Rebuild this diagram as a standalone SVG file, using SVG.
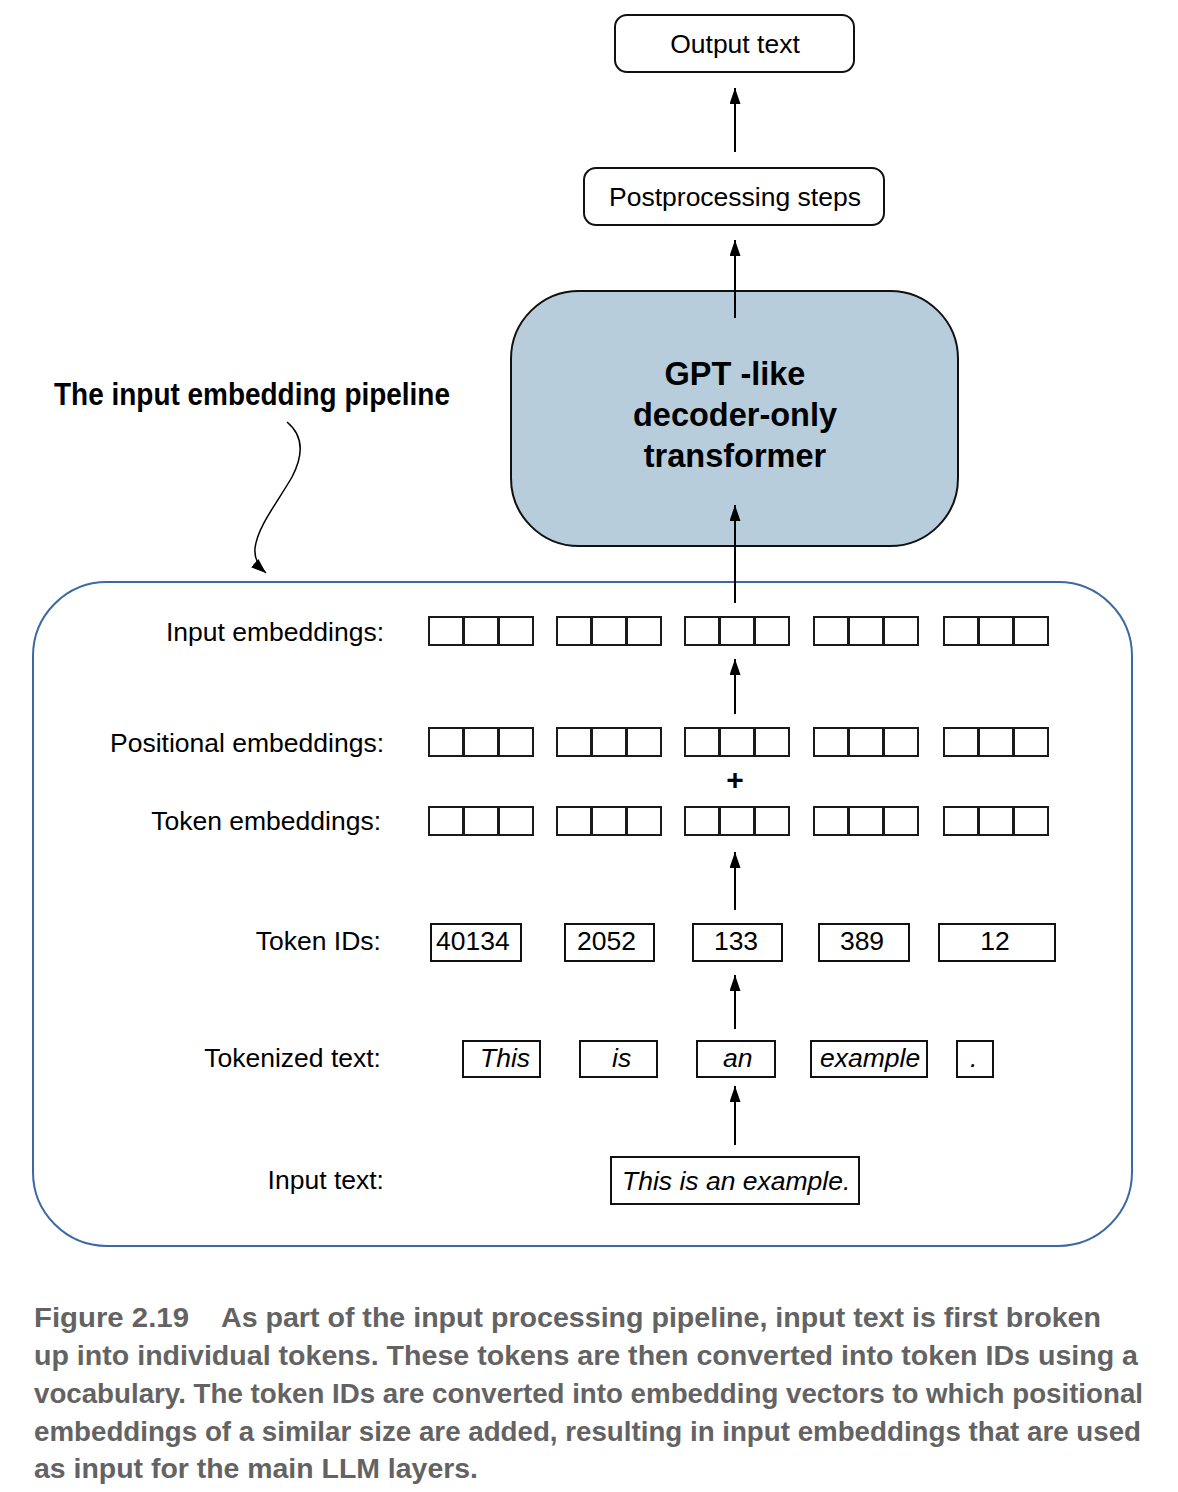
<svg xmlns="http://www.w3.org/2000/svg" width="1178" height="1492" viewBox="0 0 1178 1492">
<style>
.bx{fill:#fff;stroke:#111;stroke-width:2}
.c{fill:#fff;stroke:#1a1a1a;stroke-width:2}
.t{font-family:"Liberation Sans",Arial,sans-serif;font-size:26.5px;fill:#000}
.it{font-style:italic}
.lb{text-anchor:end}
.mid{text-anchor:middle}
.gpt{font-family:"Liberation Sans",Arial,sans-serif;font-size:32.5px;font-weight:bold;text-anchor:middle;fill:#000}
.cap{font-family:"Liberation Sans",Arial,sans-serif;font-size:27px;font-weight:bold;fill:#636363}
.ar{stroke:#000;stroke-width:2;fill:none;marker-end:url(#ah)}
</style>
<defs>
<marker id="ah" markerUnits="userSpaceOnUse" viewBox="0 0 16 11" refX="16" refY="5.5" markerWidth="16" markerHeight="11" orient="auto">
<path d="M0,0 L16,5.5 L0,11 z" fill="#000"/>
</marker>
<marker id="ah2" markerUnits="userSpaceOnUse" viewBox="0 0 15 11" refX="15" refY="5.5" markerWidth="15" markerHeight="11" orient="auto">
<path d="M0,0 L15,5.5 L0,11 z" fill="#000"/>
</marker>
</defs>
<rect width="1178" height="1492" fill="#fff"/>

<g id="pipeline-box">
<rect x="33" y="582" width="1099" height="664" rx="74" ry="74" fill="none" stroke="#3b6aa3" stroke-width="2"/>
</g>

<g id="title">
<text x="54" y="405" font-family="'Liberation Sans',Arial,sans-serif" font-size="31" font-weight="bold" textLength="396" lengthAdjust="spacingAndGlyphs">The input embedding pipeline</text>
</g>

<g id="output-text">
<rect class="bx" x="615" y="15" width="239" height="57" rx="12"/>
<text class="t mid" x="735" y="53">Output text</text>
</g>
<g id="postprocessing">
<rect class="bx" x="584" y="168" width="300" height="57" rx="12"/>
<text class="t mid" x="735" y="206">Postprocessing steps</text>
</g>
<g id="gpt">
<rect x="511" y="291" width="447" height="255" rx="68" fill="#b7cddb" stroke="#111" stroke-width="2"/>
<text class="gpt" x="735" y="385">GPT -like</text>
<text class="gpt" x="735" y="426">decoder-only</text>
<text class="gpt" x="735" y="467">transformer</text>
</g>

<g id="labels">
<text class="t lb" x="384" y="641">Input embeddings:</text>
<text class="t lb" x="384" y="752">Positional embeddings:</text>
<text class="t lb" x="381" y="830">Token embeddings:</text>
<text class="t lb" x="381" y="950">Token IDs:</text>
<text class="t lb" x="381" y="1067">Tokenized text:</text>
<text class="t lb" x="384" y="1189">Input text:</text>
</g>

<g id="input-embeddings">
<rect class="c" x="429" y="617" width="34" height="28"/><rect class="c" x="464" y="617" width="34" height="28"/><rect class="c" x="499" y="617" width="34" height="28"/>
<rect class="c" x="557" y="617" width="34" height="28"/><rect class="c" x="592" y="617" width="34" height="28"/><rect class="c" x="627" y="617" width="34" height="28"/>
<rect class="c" x="685" y="617" width="34" height="28"/><rect class="c" x="720" y="617" width="34" height="28"/><rect class="c" x="755" y="617" width="34" height="28"/>
<rect class="c" x="814" y="617" width="34" height="28"/><rect class="c" x="849" y="617" width="34" height="28"/><rect class="c" x="884" y="617" width="34" height="28"/>
<rect class="c" x="944" y="617" width="34" height="28"/><rect class="c" x="979" y="617" width="34" height="28"/><rect class="c" x="1014" y="617" width="34" height="28"/>
</g>
<g id="positional-embeddings">
<rect class="c" x="429" y="728" width="34" height="28"/><rect class="c" x="464" y="728" width="34" height="28"/><rect class="c" x="499" y="728" width="34" height="28"/>
<rect class="c" x="557" y="728" width="34" height="28"/><rect class="c" x="592" y="728" width="34" height="28"/><rect class="c" x="627" y="728" width="34" height="28"/>
<rect class="c" x="685" y="728" width="34" height="28"/><rect class="c" x="720" y="728" width="34" height="28"/><rect class="c" x="755" y="728" width="34" height="28"/>
<rect class="c" x="814" y="728" width="34" height="28"/><rect class="c" x="849" y="728" width="34" height="28"/><rect class="c" x="884" y="728" width="34" height="28"/>
<rect class="c" x="944" y="728" width="34" height="28"/><rect class="c" x="979" y="728" width="34" height="28"/><rect class="c" x="1014" y="728" width="34" height="28"/>
</g>
<g id="plus">
<text x="735" y="790" text-anchor="middle" font-family="'Liberation Sans',Arial,sans-serif" font-size="30" font-weight="bold">+</text>
</g>
<g id="token-embeddings">
<rect class="c" x="429" y="807" width="34" height="28"/><rect class="c" x="464" y="807" width="34" height="28"/><rect class="c" x="499" y="807" width="34" height="28"/>
<rect class="c" x="557" y="807" width="34" height="28"/><rect class="c" x="592" y="807" width="34" height="28"/><rect class="c" x="627" y="807" width="34" height="28"/>
<rect class="c" x="685" y="807" width="34" height="28"/><rect class="c" x="720" y="807" width="34" height="28"/><rect class="c" x="755" y="807" width="34" height="28"/>
<rect class="c" x="814" y="807" width="34" height="28"/><rect class="c" x="849" y="807" width="34" height="28"/><rect class="c" x="884" y="807" width="34" height="28"/>
<rect class="c" x="944" y="807" width="34" height="28"/><rect class="c" x="979" y="807" width="34" height="28"/><rect class="c" x="1014" y="807" width="34" height="28"/>
</g>

<g id="token-ids">
<rect class="bx" x="431" y="924" width="90" height="37"/><text class="t" x="436" y="950">40134</text>
<rect class="bx" x="565" y="924" width="89" height="37"/><text class="t" x="577" y="950">2052</text>
<rect class="bx" x="693" y="924" width="89" height="37"/><text class="t mid" x="736" y="950">133</text>
<rect class="bx" x="819" y="924" width="90" height="37"/><text class="t mid" x="862" y="950">389</text>
<rect class="bx" x="939" y="924" width="116" height="37"/><text class="t mid" x="995" y="950">12</text>
</g>

<g id="tokenized-text">
<rect class="bx" x="463" y="1041" width="77" height="36"/><text class="t it" x="480" y="1067">This</text>
<rect class="bx" x="580" y="1041" width="77" height="36"/><text class="t it" x="612" y="1067">is</text>
<rect class="bx" x="697" y="1041" width="78" height="36"/><text class="t it" x="723" y="1067">an</text>
<rect class="bx" x="811" y="1041" width="116" height="36"/><text class="t it" x="820" y="1067">example</text>
<rect class="bx" x="957" y="1041" width="36" height="36"/><text class="t it" x="970" y="1067">.</text>
</g>

<g id="input-text">
<rect class="bx" x="611" y="1157" width="248" height="47"/>
<text class="t it" x="622" y="1190">This is an example.</text>
</g>

<g id="connectors">
<line class="ar" x1="735" y1="152" x2="735" y2="88"/>
<line class="ar" x1="735" y1="318" x2="735" y2="240"/>
<line class="ar" x1="735" y1="603" x2="735" y2="505"/>
<line class="ar" x1="735" y1="714" x2="735" y2="659"/>
<line class="ar" x1="735" y1="910" x2="735" y2="852"/>
<line class="ar" x1="735" y1="1029" x2="735" y2="975"/>
<line class="ar" x1="735" y1="1145" x2="735" y2="1086"/>
<path d="M287,422 C304,436 303,456 292,477 C277,503 258,526 255,548 C254,558 258,566 266,573" fill="none" stroke="#000" stroke-width="1.5" marker-end="url(#ah2)"/>
</g>

<g id="caption">
<text class="cap" x="34" y="1327" textLength="155" lengthAdjust="spacingAndGlyphs">Figure 2.19</text>
<text class="cap" x="221" y="1327" textLength="880" lengthAdjust="spacingAndGlyphs">As part of the input processing pipeline, input text is first broken</text>
<text class="cap" x="34" y="1365" textLength="1104" lengthAdjust="spacingAndGlyphs">up into individual tokens. These tokens are then converted into token IDs using a</text>
<text class="cap" x="34" y="1403" textLength="1109" lengthAdjust="spacingAndGlyphs">vocabulary. The token IDs are converted into embedding vectors to which positional</text>
<text class="cap" x="34" y="1441" textLength="1107" lengthAdjust="spacingAndGlyphs">embeddings of a similar size are added, resulting in input embeddings that are used</text>
<text class="cap" x="34" y="1478" textLength="444" lengthAdjust="spacingAndGlyphs">as input for the main LLM layers.</text>
</g>
</svg>
